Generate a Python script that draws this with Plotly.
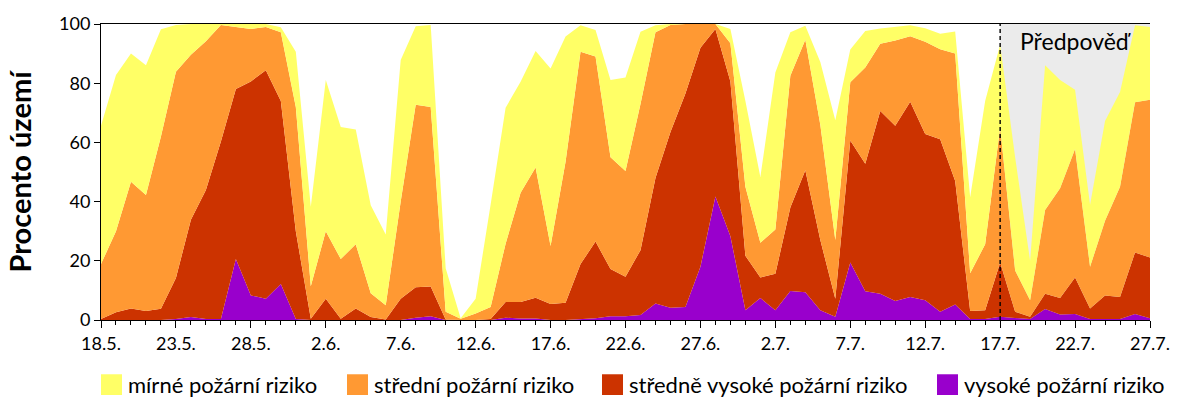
import pandas as pd
import plotly.graph_objects as go

# ---- data -------------------------------------------------------------
dates = pd.date_range("2024-05-18", periods=71, freq="D")
forecast_start = "2024-07-17"

series_names = ["mírné požární riziko", "střední požární riziko",
                "středně vysoké požární riziko", "vysoké požární riziko"]
series_colors = ["#FFFF66", "#FF9933", "#CC3300", "#9900CC"]

mirne = [46.7, 52.8, 43.3, 43.9, 36.2, 15.8, 10.4, 5.8, 0.3, 1.0,
         1.7, 1.0, 1.7, 18.6, 26.9, 51.1, 44.6, 38.8, 29.8, 23.9,
         47.8, 26.5, 27.7, 14.7, 0.2, 5.0, 34.6, 45.9, 37.5, 39.4,
         60.0, 42.3, 9.0, 9.0, 26.1, 31.6, 24.4, 2.4, 0.3, 0.0,
         0.0, 0.0, 4.8, 29.0, 22.2, 53.0, 14.7, 4.7, 21.2, 40.5,
         11.1, 12.3, 5.2, 4.6, 3.7, 4.6, 5.2, 7.5, 25.7, 48.4,
         28.0, 38.3, 13.3, 48.9, 36.6, 20.0, 20.9, 33.7, 32.0, 26.0,
         24.6]
stredni = [18.6, 27.4, 42.8, 39.2, 58.2, 69.7, 55.7, 50.3, 39.4, 21.0,
           17.7, 14.6, 23.2, 42.0, 11.0, 22.8, 20.2, 21.7, 8.0, 4.8,
           32.8, 61.6, 60.7, 2.6, 0.4, 2.2, 4.1, 19.7, 36.9, 44.0,
           19.6, 47.7, 71.7, 62.5, 37.8, 35.7, 49.4, 49.2, 36.2, 23.5,
           8.0, 1.7, 12.9, 23.3, 11.7, 15.0, 44.5, 44.1, 39.0, 19.8,
           19.7, 32.5, 22.7, 28.8, 22.2, 31.2, 30.4, 43.0, 12.8, 22.3,
           45.6, 13.9, 5.6, 28.3, 37.1, 43.4, 14.1, 25.2, 37.2, 50.8,
           53.3]
stredne_vysoke = [0.3, 2.6, 3.9, 3.0, 3.8, 13.9, 32.9, 43.6, 60.0, 57.4,
                  72.3, 77.2, 61.8, 29.7, 0.4, 7.2, 0.4, 3.9, 1.0, 0.2,
                  7.2, 10.3, 10.0, 0.2, 0.0, 0.0, 0.3, 5.3, 5.6, 7.0,
                  5.4, 5.8, 18.6, 25.9, 15.9, 13.3, 21.9, 42.4, 59.4, 72.1,
                  74.0, 56.6, 52.3, 18.4, 7.0, 12.3, 28.2, 41.2, 23.7, 6.1,
                  41.2, 43.1, 61.7, 59.2, 65.9, 56.1, 58.3, 41.8, 2.7, 3.0,
                  18.3, 2.2, 0.8, 5.2, 5.5, 12.4, 3.6, 8.0, 7.5, 20.8,
                  20.5]
vysoke = [0.0, 0.0, 0.0, 0.0, 0.0, 0.3, 1.0, 0.3, 0.3, 20.6,
          8.3, 7.2, 12.2, 0.3, 0.0, 0.0, 0.0, 0.0, 0.0, 0.0,
          0.0, 0.8, 1.3, 0.0, 0.0, 0.0, 0.0, 0.8, 0.5, 0.5,
          0.0, 0.0, 0.3, 0.6, 1.3, 1.3, 1.7, 5.6, 4.1, 4.4,
          18.0, 41.7, 28.3, 3.3, 7.4, 3.3, 9.8, 9.4, 3.3, 1.1,
          19.4, 9.7, 8.9, 6.4, 7.8, 6.7, 2.8, 5.2, 0.3, 0.3,
          1.1, 0.6, 0.3, 3.7, 1.9, 2.0, 0.3, 0.3, 0.3, 2.0,
          0.6]

# ---- figure -----------------------------------------------------------
FONT = "Lato"
fig = go.Figure()

stack = [(series_names[3], vysoke, series_colors[3]),
         (series_names[2], stredne_vysoke, series_colors[2]),
         (series_names[1], stredni, series_colors[1]),
         (series_names[0], mirne, series_colors[0])]
for name, vals, col in stack:
    fig.add_trace(go.Scatter(
        x=dates, y=vals, name=name, mode="lines",
        line=dict(width=0, color=col), fillcolor=col,
        stackgroup="one", showlegend=False))

# forecast region
fig.add_shape(type="rect", xref="x", yref="y",
              x0=forecast_start, x1=dates[-1], y0=0, y1=100,
              fillcolor="#EBEBEB", line=dict(width=0), layer="below")
fig.add_shape(type="line", xref="x", yref="y",
              x0=forecast_start, x1=forecast_start, y0=0, y1=100,
              line=dict(color="black", width=1.4, dash="4px,3px"), layer="above")
fig.add_annotation(x="2024-07-22", y=94.3, xref="x", yref="y",
                   text="Předpověď", showarrow=False,
                   font=dict(family=FONT, size=23, color="black"))

# manual legend (large square swatches)
L, W, T, H = 101, 1049, 20, 300
def px_x(p):
    return (p - L) / W
def px_y(p):
    return (T + H - p) / H

sw_left = [101, 347, 602, 937]
for name, col, x0 in zip(series_names, series_colors, sw_left):
    fig.add_shape(type="rect", xref="paper", yref="paper",
                  x0=px_x(x0), x1=px_x(x0 + 21), y0=px_y(396), y1=px_y(375),
                  fillcolor=col, line=dict(width=0))
    fig.add_annotation(xref="paper", yref="paper", x=px_x(x0 + 25), y=px_y(385.5),
                       xanchor="left", yanchor="middle", text=name, showarrow=False,
                       font=dict(family=FONT, size=22, color="black"))

fig.update_layout(
    width=1200, height=400,
    margin=dict(l=101, r=50, t=20, b=80),
    paper_bgcolor="white", plot_bgcolor="white",
    font=dict(family=FONT, size=17, color="black"),
    showlegend=False,
    xaxis=dict(
        type="date", range=[dates[0], dates[-1]],
        tick0=dates[0], dtick=5 * 86400000, tickformat="%-d.%-m.",
        ticks="outside", ticklen=7, tickwidth=1, tickcolor="black",
        showline=True, linecolor="black", linewidth=1, mirror=True,
        showgrid=False, zeroline=False,
        tickfont=dict(family=FONT, size=18, color="black"),
        minor=dict(dtick=86400000, ticks="outside", ticklen=4,
                   tickcolor="black", showgrid=False),
    ),
    yaxis=dict(
        range=[0, 100], tick0=0, dtick=20,
        ticks="outside", ticklen=6, tickwidth=1, tickcolor="black",
        showline=True, linecolor="black", linewidth=1,
        showgrid=False, zeroline=False,
        tickfont=dict(family=FONT, size=18, color="black"),
        title=dict(text="<b>Procento území</b>", standoff=18,
                   font=dict(family=FONT, size=29, color="black")),
    ),
)

fig.write_html("out.html")
